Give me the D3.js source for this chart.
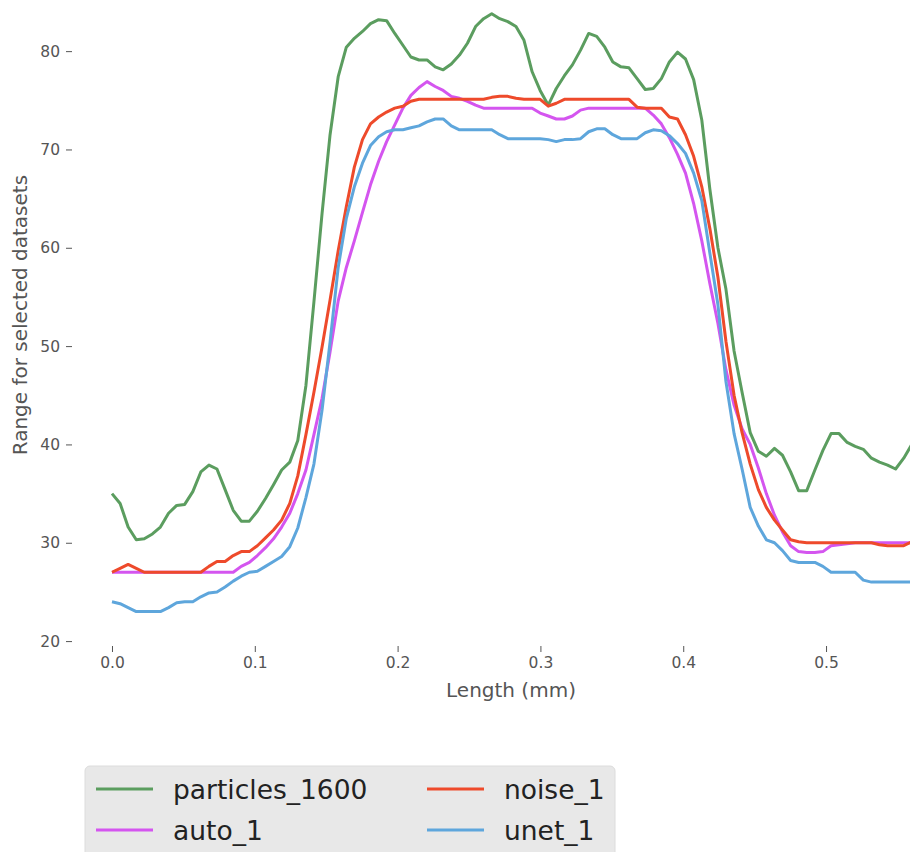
<!DOCTYPE html>
<html>
<head>
<meta charset="utf-8">
<script src="https://cdn.jsdelivr.net/npm/d3@7"></script>
<style>
  body { margin: 0; background: #ffffff; }
  svg { display: block; font-family: "DejaVu Sans", sans-serif; }
</style>
</head>
<body>
<svg id="chart" width="910" height="852"></svg>
<script>
// Sample positions along the profile (mm)
const lengthMm = [
  0, 0.0057, 0.0113, 0.0170, 0.0226, 0.0283, 0.0339, 0.0396, 0.0453, 0.0509,
  0.0566, 0.0622, 0.0679, 0.0735, 0.0792, 0.0849, 0.0905, 0.0962, 0.1018, 0.1075,
  0.1131, 0.1188, 0.1245, 0.1301, 0.1358, 0.1414, 0.1471, 0.1527, 0.1584, 0.1641,
  0.1697, 0.1754, 0.1810, 0.1867, 0.1923, 0.1980, 0.2037, 0.2093, 0.2150, 0.2206,
  0.2263, 0.2319, 0.2376, 0.2433, 0.2489, 0.2546, 0.2602, 0.2659, 0.2715, 0.2772,
  0.2829, 0.2885, 0.2942, 0.2998, 0.3055, 0.3111, 0.3168, 0.3224, 0.3281, 0.3338,
  0.3394, 0.3451, 0.3507, 0.3564, 0.3620, 0.3677, 0.3734, 0.3790, 0.3847, 0.3903,
  0.3960, 0.4016, 0.4073, 0.4130, 0.4186, 0.4243, 0.4299, 0.4356, 0.4412, 0.4469,
  0.4526, 0.4582, 0.4639, 0.4695, 0.4752, 0.4808, 0.4865, 0.4922, 0.4978, 0.5035,
  0.5091, 0.5148, 0.5204, 0.5261, 0.5318, 0.5374, 0.5431, 0.5487, 0.5544, 0.5600
];

const particles1600 = [
  35.0, 34.0, 31.6, 30.3, 30.4, 30.9, 31.6, 33.0, 33.8, 33.9,
  35.2, 37.2, 37.9, 37.5, 35.4, 33.3, 32.2, 32.2, 33.2, 34.5,
  35.9, 37.4, 38.2, 40.4, 46.0, 54.5, 63.5, 71.5, 77.4, 80.4,
  81.3, 82.0, 82.8, 83.2, 83.1, 81.8, 80.6, 79.4, 79.1, 79.1,
  78.4, 78.1, 78.7, 79.6, 80.8, 82.5, 83.3, 83.8, 83.3, 83.0,
  82.5, 81.1, 77.9, 76.0, 74.5, 76.2, 77.5, 78.6, 80.1, 81.8,
  81.5, 80.4, 78.9, 78.4, 78.3, 77.2, 76.1, 76.2, 77.2, 78.9,
  79.9, 79.2, 77.1, 73.0, 66.0, 60.0, 55.8, 49.5, 45.3, 41.2,
  39.3, 38.8, 39.6, 38.9, 37.2, 35.3, 35.3, 37.4, 39.4, 41.1,
  41.1, 40.2, 39.8, 39.5, 38.6, 38.2, 37.9, 37.5, 38.6, 40.0
];

const auto1 = [
  27.0, 27.0, 27.0, 27.0, 27.0, 27.0, 27.0, 27.0, 27.0, 27.0,
  27.0, 27.0, 27.0, 27.0, 27.0, 27.0, 27.6, 28.0, 28.7, 29.5,
  30.4, 31.6, 33.0, 35.0, 37.4, 41.0, 44.7, 49.4, 54.6, 58.0,
  60.7, 63.6, 66.4, 68.8, 70.8, 72.5, 74.2, 75.5, 76.3, 76.9,
  76.4, 76.0, 75.4, 75.2, 74.9, 74.5, 74.2, 74.2, 74.2, 74.2,
  74.2, 74.2, 74.2, 73.7, 73.4, 73.1, 73.1, 73.4, 74.0, 74.2,
  74.2, 74.2, 74.2, 74.2, 74.2, 74.2, 74.2, 73.5, 72.6, 71.2,
  69.5, 67.6, 64.5, 60.7, 56.4, 52.3, 47.6, 44.0, 41.6, 40.0,
  37.6, 35.0, 32.8, 31.1, 29.7, 29.1, 29.0, 29.0, 29.1, 29.7,
  29.8, 29.9, 30.0, 30.0, 30.0, 30.0, 30.0, 30.0, 30.0, 30.0
];

const noise1 = [
  27.0, 27.4, 27.8, 27.4, 27.0, 27.0, 27.0, 27.0, 27.0, 27.0,
  27.0, 27.0, 27.6, 28.1, 28.1, 28.7, 29.1, 29.1, 29.7, 30.5,
  31.3, 32.3, 34.0, 36.8, 41.0, 45.3, 49.9, 54.7, 59.7, 64.2,
  68.2, 71.0, 72.6, 73.3, 73.8, 74.2, 74.4, 74.9, 75.1, 75.1,
  75.1, 75.1, 75.1, 75.1, 75.1, 75.1, 75.1, 75.3, 75.4, 75.4,
  75.2, 75.1, 75.1, 75.1, 74.4, 74.7, 75.1, 75.1, 75.1, 75.1,
  75.1, 75.1, 75.1, 75.1, 75.1, 74.3, 74.2, 74.2, 74.2, 73.3,
  73.1, 71.5, 69.3, 66.2, 62.0, 57.0, 50.5, 45.0, 41.2, 38.0,
  35.4, 33.6, 32.3, 31.3, 30.3, 30.1, 30.0, 30.0, 30.0, 30.0,
  30.0, 30.0, 30.0, 30.0, 30.0, 29.8, 29.7, 29.7, 29.7, 30.1
];

const unet1 = [
  24.0, 23.8, 23.4, 23.0, 23.0, 23.0, 23.0, 23.4, 23.9, 24.0,
  24.0, 24.5, 24.9, 25.0, 25.5, 26.1, 26.6, 27.0, 27.1, 27.6,
  28.1, 28.6, 29.6, 31.5, 34.6, 38.0, 43.5, 50.4, 58.0, 63.0,
  66.2, 68.6, 70.4, 71.3, 71.8, 72.0, 72.0, 72.2, 72.4, 72.8,
  73.1, 73.1, 72.4, 72.0, 72.0, 72.0, 72.0, 72.0, 71.5, 71.1,
  71.1, 71.1, 71.1, 71.1, 71.0, 70.8, 71.0, 71.0, 71.1, 71.8,
  72.1, 72.1, 71.5, 71.1, 71.1, 71.1, 71.7, 72.0, 71.9, 71.4,
  70.6, 69.6, 67.6, 64.8, 59.5, 54.2, 46.4, 41.1, 37.5, 33.6,
  31.7, 30.3, 30.0, 29.2, 28.2, 28.0, 28.0, 28.0, 27.6, 27.0,
  27.0, 27.0, 27.0, 26.2, 26.0, 26.0, 26.0, 26.0, 26.0, 26.0
];

const seriesNames = ["particles_1600", "auto_1", "noise_1", "unet_1"];
const seriesValues = [particles1600, auto1, noise1, unet1];
const xTicks = [0, 0.1, 0.2, 0.3, 0.4, 0.5];
const yTicks = [20, 30, 40, 50, 60, 70, 80];

// Line colours per series
const lineColors = {
  "particles_1600": "#5b9d5f",
  "auto_1": "#d455ef",
  "noise_1": "#ee4a2b",
  "unet_1": "#5ea6dc"
};

const svg = d3.select("#chart");
const W = 910, H = 852;
// The axes run past the right edge of the canvas; the lines are cut there.
const plot = { left: 72, right: 950, top: 0, bottom: 646 };

const x = d3.scaleLinear().domain([-0.028, 0.5868]).range([plot.left, plot.right]);
const y = d3.scaleLinear().domain([19.5, 85.2]).range([plot.bottom, plot.top]);

svg.append("rect").attr("width", W).attr("height", H).attr("fill", "#ffffff");

svg.append("clipPath").attr("id", "plot-clip")
  .append("rect")
  .attr("x", plot.left).attr("y", plot.top)
  .attr("width", plot.right - plot.left).attr("height", plot.bottom - plot.top);

// Axes
const tickColor = "#555555";
const yAxis = svg.append("g")
  .attr("transform", `translate(${plot.left},0)`)
  .call(d3.axisLeft(y).tickValues(yTicks).tickFormat(d3.format("d")).tickSize(6).tickPadding(6));
const xAxis = svg.append("g")
  .attr("transform", `translate(0,${plot.bottom})`)
  .call(d3.axisBottom(x).tickValues(xTicks).tickFormat(d3.format(".1f")).tickSize(6).tickPadding(5));

[yAxis, xAxis].forEach(g => {
  g.select(".domain").remove();
  g.selectAll(".tick line").attr("stroke", tickColor).attr("stroke-width", 1);
  g.selectAll(".tick text")
    .attr("fill", tickColor)
    .style("font-size", "15.5px")
    .style("font-family", "'DejaVu Sans', sans-serif");
});

// Axis titles, centred on the full axes extent
svg.append("text")
  .attr("x", (plot.left + plot.right) / 2)
  .attr("y", 697)
  .attr("text-anchor", "middle")
  .attr("fill", tickColor)
  .style("font-size", "20px")
  .text("Length (mm)");

svg.append("text")
  .attr("transform", `translate(27,${(y(20) + y(80)) / 2 - 31}) rotate(-90)`)
  .attr("text-anchor", "middle")
  .attr("fill", tickColor)
  .style("font-size", "20px")
  .text("Range for selected datasets");

// Series lines
const line = d3.line()
  .x((d, i) => x(lengthMm[i]))
  .y(d => y(d));

const lines = svg.append("g").attr("clip-path", "url(#plot-clip)");
seriesNames.forEach((name, k) => {
  lines.append("path")
    .datum(seriesValues[k])
    .attr("fill", "none")
    .attr("stroke", lineColors[name])
    .attr("stroke-width", 3)
    .attr("stroke-linejoin", "round")
    .attr("stroke-linecap", "butt")
    .attr("d", line);
});

// Legend, two columns filled column-wise
const legend = svg.append("g");
legend.append("rect")
  .attr("x", 85).attr("y", 766)
  .attr("width", 530).attr("height", 110)
  .attr("rx", 5)
  .attr("fill", "#e8e8e8")
  .attr("stroke", "#dcdcdc");

const colX = [96, 427];
const rowY = [789, 830];
seriesNames.forEach((name, k) => {
  const col = Math.floor(k / 2), row = k % 2;
  const gx = colX[col], gy = rowY[row];
  legend.append("line")
    .attr("x1", gx).attr("x2", gx + 57)
    .attr("y1", gy).attr("y2", gy)
    .attr("stroke", lineColors[name])
    .attr("stroke-width", 3);
  legend.append("text")
    .attr("x", gx + 77).attr("y", gy + 9.5)
    .attr("fill", "#222222")
    .style("font-size", "26.5px")
    .text(name);
});
</script>
</body>
</html>
